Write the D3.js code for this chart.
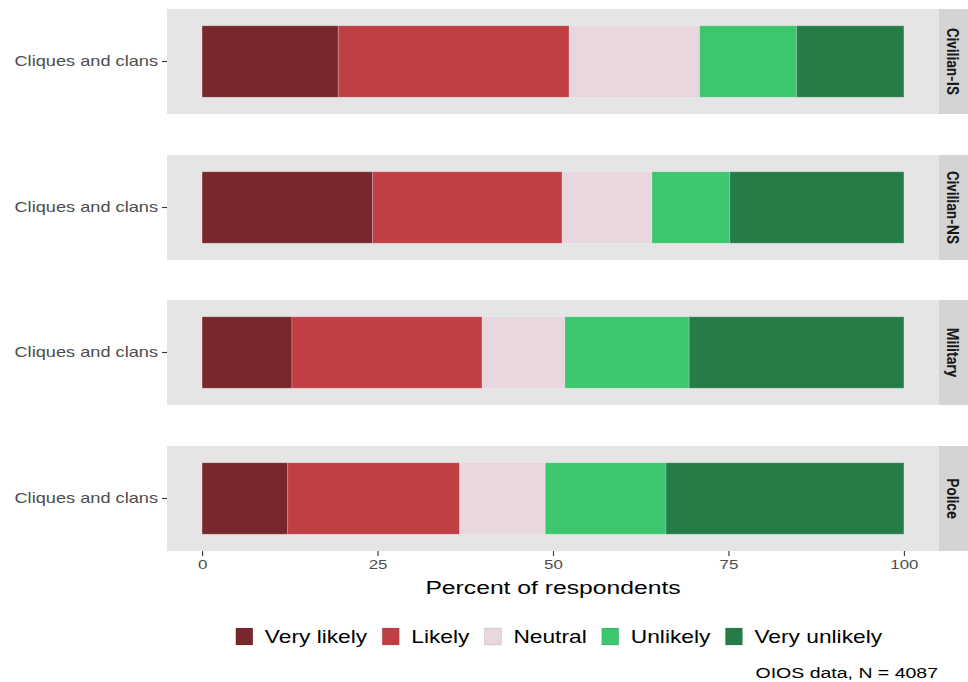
<!DOCTYPE html>
<html><head><meta charset="utf-8">
<script src="https://cdn.jsdelivr.net/npm/d3@7"></script>
<style>body{margin:0;background:#fff;} svg{display:block;font-family:"Liberation Sans",Arial,sans-serif;}</style>
</head><body>
<svg id="chart" width="968" height="682"></svg>
<script>
const groups = ["Civilian-IS", "Civilian-NS", "Military", "Police"];
const categories = ["Very likely", "Likely", "Neutral", "Unlikely", "Very unlikely"];
const item = "Cliques and clans";
const veryLikely   = [19.4, 24.3, 12.8, 12.2];
const likely       = [32.9, 27.0, 27.1, 24.5];
const neutral      = [18.6, 12.8, 11.8, 12.2];
const unlikely     = [13.8, 11.1, 17.7, 17.2];
const veryUnlikely = [15.3, 24.8, 30.6, 33.9];
const xTicks = [0, 25, 50, 75, 100];
const colors = ["#78282c", "#c03f45", "#e8d7df", "#3cc66d", "#267c46"];

const series = [veryLikely, likely, neutral, unlikely, veryUnlikely];
const svg = d3.select("#chart");
const SX = 1.3; // horizontal stretch of the original image's text

function stretch(sel) {
  sel.each(function() {
    const t = d3.select(this);
    const x0 = +t.attr("x") || 0;
    t.attr("transform", `translate(${x0},0) scale(${SX},1) translate(${-x0},0)`);
  });
}

const panelLeft = 167, panelRight = 939, stripW = 29;
const panelTops = [9, 155, 300, 446], panelH = 105;
const x = d3.scaleLinear().domain([-5, 105]).range([panelLeft, panelRight]);
const stackData = groups.map((g, i) => {
  const o = {group: g};
  categories.forEach((c, j) => o[c] = series[j][i]);
  return o;
});
const stacked = d3.stack().keys(categories)(stackData);
const color = d3.scaleOrdinal().domain(categories).range(colors);

groups.forEach((g, i) => {
  const top = panelTops[i];
  const y = d3.scaleBand().domain([item]).range([top, top + panelH]).paddingInner(0).paddingOuter(0.235);
  const pg = svg.append("g");
  pg.append("rect").attr("x", panelLeft).attr("y", top).attr("width", panelRight - panelLeft).attr("height", panelH).attr("fill", "#e5e5e5");
  stacked.forEach(s => {
    const d = s[i];
    pg.append("rect")
      .attr("x", x(d[0])).attr("width", x(d[1]) - x(d[0]))
      .attr("y", y(item)).attr("height", y.bandwidth())
      .attr("fill", color(s.key))
      .attr("stroke", "rgba(255,255,255,0.25)").attr("stroke-width", 0.8);
  });
  // strip
  pg.append("rect").attr("x", panelRight).attr("y", top).attr("width", stripW).attr("height", panelH).attr("fill", "#d4d4d4");
  pg.append("text").attr("transform", `translate(${panelRight + stripW/2 - 1},${top + panelH/2}) scale(1.15,1) rotate(90)`)
    .attr("text-anchor", "middle").attr("dy", "0.35em")
    .style("font-family", "Roboto, sans-serif").style("font-weight", "bold").style("font-size", "14.5px").attr("fill", "#1a1a1a")
    .text(g);
  // y axis
  const ya = pg.append("g").attr("transform", `translate(${panelLeft},0)`).call(d3.axisLeft(y).tickSize(5).tickPadding(4));
  ya.select(".domain").remove();
  ya.selectAll("line").attr("stroke", "#333").attr("stroke-width", 1.1);
  ya.selectAll("text").style("font-size", "14px").attr("fill", "#4d4d4d").style("font-family", "Liberation Sans, Arial, sans-serif").call(stretch);
});

const xa = svg.append("g").attr("transform", `translate(0,${panelTops[3] + panelH})`)
  .call(d3.axisBottom(x).tickValues(xTicks).tickSize(5).tickPadding(4));
xa.select(".domain").remove();
xa.selectAll("line").attr("stroke", "#333").attr("stroke-width", 1.1);
xa.selectAll("text").style("font-size", "13px").attr("fill", "#4d4d4d").style("font-family", "Liberation Sans, Arial, sans-serif").call(stretch);

svg.append("text").attr("x", (panelLeft + panelRight) / 2).attr("y", 594).attr("text-anchor", "middle")
  .style("font-size", "19px").attr("fill", "#000").text("Percent of respondents").call(stretch);

// legend
const leg = svg.append("g");
let lx = 0;
const items = [];
categories.forEach((c, j) => {
  const gI = leg.append("g");
  gI.append("rect").attr("x", 0).attr("y", 628).attr("width", 17).attr("height", 17).attr("fill", colors[j]).attr("stroke", "rgba(0,0,0,0.12)").attr("stroke-width", 0.8);
  const t = gI.append("text").attr("x", 29).attr("y", 643).style("font-size", "17.5px").attr("fill", "#000").text(c);
  const w = 29 + t.node().getComputedTextLength() * SX;
  t.call(stretch);
  items.push({gI, w});
});
const gap = 15;
const total = d3.sum(items, d => d.w) + gap * (items.length - 1);
lx = 559 - total / 2;
items.forEach(d => { d.gI.attr("transform", `translate(${lx},0)`); lx += d.w + gap; });

svg.append("text").attr("x", 938).attr("y", 678).attr("text-anchor", "end")
  .style("font-size", "15px").attr("fill", "#000").text("OIOS data, N = 4087").call(stretch);
</script>
</body></html>
